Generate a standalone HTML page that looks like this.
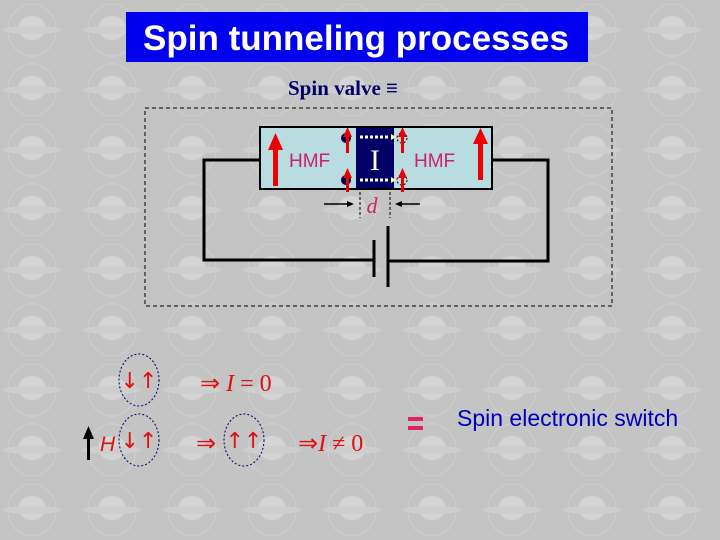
<!DOCTYPE html>
<html><head><meta charset="utf-8"><style>
html,body{margin:0;padding:0;}
body{width:720px;height:540px;background:#c6c6c6;overflow:hidden;}
svg{display:block;}
</style></head><body>
<svg width="720" height="540" viewBox="0 0 720 540" xmlns="http://www.w3.org/2000/svg">
<defs>
<pattern id="bg" width="80" height="60" patternUnits="userSpaceOnUse" x="-8" y="0">
<rect width="80" height="60" fill="#c4c4c4"/>
<ellipse cx="40" cy="28" rx="14" ry="12" fill="#d4d4d4"/>
<ellipse cx="40" cy="30" rx="30" ry="4" fill="#cecece"/>
<ellipse cx="40" cy="30" rx="24" ry="26" fill="none" stroke="#d0d0d0" stroke-width="1"/>
</pattern>
</defs>
<rect width="720" height="540" fill="url(#bg)"/>
<rect x="126" y="12" width="462" height="50" fill="#0000ee"/>
<text x="356" y="50" text-anchor="middle" font-family="Liberation Sans, sans-serif" font-weight="bold" font-size="35" fill="#fff">Spin tunneling processes</text>
<text x="343" y="95" text-anchor="middle" font-family="Liberation Serif, serif" font-weight="bold" font-size="21" fill="#000066">Spin valve ≡</text>
<rect x="145" y="108" width="467" height="198" fill="none" stroke="#000" stroke-dasharray="4,3"/>
<g stroke="#000" stroke-width="3" fill="none">
<polyline points="260,160 204,160 204,260 374,260"/>
<polyline points="492,160 548,160 548,261 388,261"/>
<line x1="374" y1="240" x2="374" y2="277"/>
<line x1="388" y1="226" x2="388" y2="287"/>
</g>
<rect x="260" y="127" width="232" height="62" fill="#b8dce0" stroke="#000" stroke-width="2"/>
<rect x="356" y="128" width="38" height="60" fill="#000066"/>
<text x="375" y="170" text-anchor="middle" font-family="Liberation Serif, serif" font-size="30" fill="#fff">I</text>
<g stroke="#fff" stroke-width="3" stroke-dasharray="3,2"><line x1="360" y1="137" x2="388" y2="137"/><line x1="360" y1="180" x2="388" y2="180"/></g>
<circle cx="346" cy="138" r="5" fill="#000044"/><circle cx="346" cy="180" r="5" fill="#000044"/>
<g fill="none" stroke="#000" stroke-dasharray="2,2"><circle cx="402" cy="138" r="5"/><circle cx="402" cy="180" r="5"/></g>
<polygon points="391,134 396,137 391,140" fill="#ffff99"/><polygon points="391,177 396,180 391,183" fill="#ffff99"/>
<g fill="#ee0000">
<rect x="273" y="148" width="5" height="38"/><polygon points="268,150 275.5,133 283,150"/>
<rect x="478" y="142" width="5" height="38"/><polygon points="473,144 480.5,128 488,144"/>
<rect x="346" y="135" width="3" height="18"/><polygon points="343,137 347.5,127 352,137"/>
<rect x="346" y="176" width="3" height="16"/><polygon points="343,178 347.5,168 352,178"/>
<rect x="401" y="135" width="3" height="18"/><polygon points="398,137 402.5,127 407,137"/>
<rect x="401" y="176" width="3" height="16"/><polygon points="398,178 402.5,168 407,178"/>
</g>
<text x="289" y="167" font-family="Liberation Sans, sans-serif" font-size="19" fill="#cc2266">HMF</text>
<text x="414" y="167" font-family="Liberation Sans, sans-serif" font-size="19" fill="#cc2266">HMF</text>
<g stroke="#000" stroke-dasharray="3,2"><line x1="360" y1="192" x2="360" y2="218"/><line x1="390" y1="192" x2="390" y2="218"/></g>
<text x="372" y="213" text-anchor="middle" font-family="Liberation Serif, serif" font-style="italic" font-size="22" fill="#cc2266">d</text>
<g stroke="#000" stroke-width="1.5"><line x1="324" y1="204" x2="350" y2="204"/><line x1="398" y1="204" x2="420" y2="204"/></g>
<polygon points="354,204 347,201 347,207"/><polygon points="395,204 402,201 402,207"/>
<g fill="none" stroke="#000066" stroke-dasharray="2,2"><ellipse cx="139" cy="380" rx="20" ry="26"/><ellipse cx="139" cy="440" rx="20" ry="26"/><ellipse cx="244" cy="440" rx="20" ry="26"/></g>
<g font-family="DejaVu Sans, sans-serif" fill="#dd1111" font-size="22">
<text x="139" y="388" text-anchor="middle">↓↑</text>
<text x="139" y="448" text-anchor="middle">↓↑</text>
<text x="244" y="448" text-anchor="middle">↑↑</text>
</g>
<g font-family="Liberation Serif, serif" fill="#dd1111" font-size="24">
<text x="200" y="391">⇒ <tspan font-style="italic">I</tspan> = 0</text>
<text x="196" y="451">⇒</text>
<text x="298" y="451">⇒<tspan font-style="italic">I</tspan> ≠ 0</text>
<text x="100" y="451" font-family="Liberation Sans, sans-serif" font-style="italic" font-size="21">H</text>
</g>
<rect x="87" y="436" width="3" height="24" fill="#000"/><polygon points="83,439 88.5,426 94,439" fill="#000"/>
<g fill="#dd2266"><rect x="408" y="417" width="15" height="4"/><rect x="408" y="426" width="15" height="4"/></g>
<text x="457" y="426" font-family="Liberation Sans, sans-serif" font-size="23" fill="#0000bb">Spin electronic switch</text>
</svg>
</body></html>
